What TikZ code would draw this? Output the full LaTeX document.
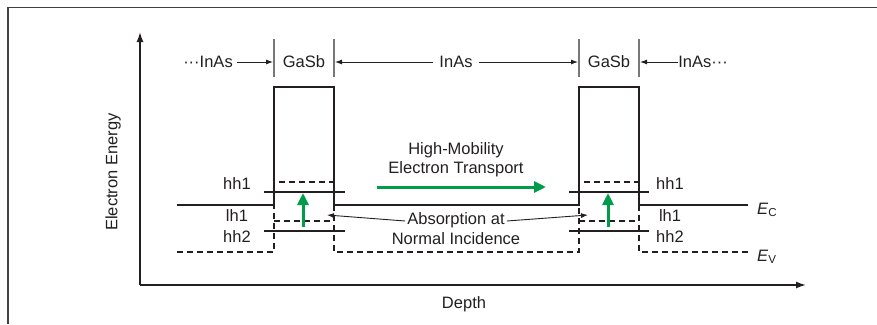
\documentclass[tikz,border=0pt]{standalone}
\usepackage{fontspec}
\setmainfont{Liberation Sans}
\usetikzlibrary{arrows.meta}
\definecolor{ink}{RGB}{35,31,32}
\definecolor{sepc}{RGB}{120,120,120}
\definecolor{grn}{RGB}{0,155,75}
\begin{document}
\begin{tikzpicture}[x=1pt,y=-1pt,
  font=\fontsize{16.5}{19}\selectfont,
  txt/.style={inner sep=0pt, text=ink},
  frameline/.style={line width=1.6pt, draw=ink!85},
  axis/.style={line width=1.6pt, draw=ink, -{Latex[length=10pt,width=7pt]}},
  band/.style={line width=2.4pt, draw=ink, line join=miter},
  vband/.style={line width=1.4pt, draw=ink, dash pattern=on 6pt off 4pt},
  level/.style={line width=2.2pt, draw=ink},
  sepline/.style={line width=1.1pt, draw=sepc},
  lblarrow/.style={line width=0.9pt, draw=ink, -{Latex[length=7pt,width=5pt]}},
  grnarrow/.style={line width=3pt, draw=grn, -{Triangle[length=12pt,width=11pt]}}]
\useasboundingbox (0,0) rectangle (877,324);

% frame
\draw[frameline] (8,324) -- (8,7.5) -- (877,7.5);

% axes
\coordinate (origin) at (140,285);
\coordinate (ytop) at (140,32);
\coordinate (xend) at (806,285);
\draw[axis] (origin) -- (ytop);
\draw[axis] (origin) -- (xend);
\node[txt, rotate=90] (ylab) at (113,172) {Electron Energy};
\node[txt] (xlab) at (464,304) {Depth};

% layer separators
\coordinate (s1t) at (274,39); \coordinate (s1b) at (274,77);
\coordinate (s2t) at (334,39); \coordinate (s2b) at (334,77);
\coordinate (s3t) at (579,39); \coordinate (s3b) at (579,77);
\coordinate (s4t) at (639,39); \coordinate (s4b) at (639,77);
\draw[sepline] (s1t) -- (s1b);
\draw[sepline] (s2t) -- (s2b);
\draw[sepline] (s3t) -- (s3b);
\draw[sepline] (s4t) -- (s4b);
\coordinate (s1m) at (273,62);
\coordinate (s2m) at (335,62);
\coordinate (s3m) at (578,62);
\coordinate (s4m) at (640,62);

% layer labels
\node[txt] (inas1) at (208,62) {\textperiodcentered\textperiodcentered\textperiodcentered InAs};
\node[txt] (gasb1) at (304,62) {GaSb};
\node[txt] (inas2) at (456,62) {InAs};
\node[txt] (gasb2) at (609,62) {GaSb};
\node[txt] (inas3) at (703,62) {InAs\textperiodcentered\textperiodcentered\textperiodcentered};
\draw[lblarrow] ([xshift=4pt]inas1.east) -- (s1m);
\draw[lblarrow] ([xshift=-6pt]inas2.west) -- (s2m);
\draw[lblarrow] ([xshift=6pt]inas2.east) -- (s3m);
\draw[lblarrow] (inas3.west) -- (s4m);

% conduction band edge
\draw[band] (177,205) -- (274,205) -- (274,87) -- (334,87) -- (334,205)
  -- (579,205) -- (579,87) -- (639,87) -- (639,205) -- (748,205);

% valence band edge (dashed)
\draw[vband] (177,252) -- (274,252) -- (274,205);
\draw[vband] (334,205) -- (334,252) -- (579,252) -- (579,205);
\draw[vband] (639,205) -- (639,252) -- (748,252);
\draw[vband] (279,182) -- (333,182);
\draw[vband] (584,182) -- (638,182);
\draw[vband] (274,221) -- (333,221);
\draw[vband] (579,221) -- (638,221);

% subband levels
\draw[level] (264,192) -- (345,192);
\draw[level] (264,231) -- (345,231);
\draw[level] (569,192) -- (649,192);
\draw[level] (569,231) -- (649,231);

% level labels
\node[txt] (hh1l) at (237,184) {hh1};
\node[txt] (lh1l) at (237,216) {lh1};
\node[txt] (hh2l) at (237,237) {hh2};
\node[txt] (hh1r) at (670,184) {hh1};
\node[txt] (lh1r) at (670,216) {lh1};
\node[txt] (hh2r) at (670,237) {hh2};
\node[txt, anchor=west] (ec) at (757,210) {\textit{E}\textsubscript{C}};
\node[txt, anchor=west] (ev) at (757,257) {\textit{E}\textsubscript{V}};

% green arrows
\coordinate (g1a) at (303,227); \coordinate (g1b) at (303,193);
\coordinate (g2a) at (608,227); \coordinate (g2b) at (608,193);
\coordinate (g3a) at (377,187); \coordinate (g3b) at (546,187);
\draw[grnarrow] (g1a) -- (g1b);
\draw[grnarrow] (g2a) -- (g2b);
\draw[grnarrow] (g3a) -- (g3b);

% text blocks
\node[txt] (hm) at (456,150) {High-Mobility};
\node[txt] (et) at (456,169) {Electron Transport};
\node[txt] (abs) at (456,220) {Absorption at};
\node[txt] (ni) at (456,239) {Normal Incidence};
\coordinate (abl) at (327,215);
\coordinate (abr) at (588,215);
\draw[lblarrow] ([xshift=-2pt,yshift=-1pt]abs.west) -- (abl);
\draw[lblarrow] ([xshift=2pt,yshift=-1pt]abs.east) -- (abr);
\end{tikzpicture}
\end{document}
